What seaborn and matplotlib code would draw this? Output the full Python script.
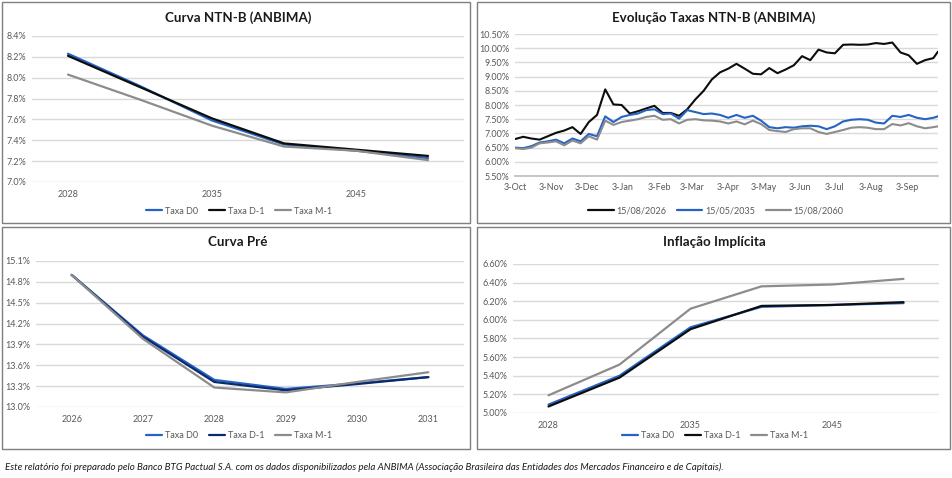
import matplotlib
matplotlib.use('Agg')
import matplotlib.pyplot as plt
import matplotlib.dates as mdates
from matplotlib.patches import Rectangle
from matplotlib.ticker import FuncFormatter, FixedLocator
import numpy as np
import pandas as pd
import seaborn as sns

sns.set_theme(style='white')
plt.rcParams['font.family'] = ['Lato', 'DejaVu Sans']

# Curva NTN-B (ANBIMA)
ntnb_venc = ['2028', '2030', '2035', '2040', '2045', '2050']
ntnb_d0 = [8.23, 7.92, 7.59, 7.36, 7.30, 7.23]
ntnb_d1 = [8.21, 7.91, 7.61, 7.37, 7.31, 7.25]
ntnb_m1 = [8.03, 7.79, 7.54, 7.34, 7.30, 7.21]

# Curva Pre
pre_anos = ['2026', '2027', '2028', '2029', '2030', '2031']
pre_d0 = [14.90, 14.03, 13.39, 13.26, 13.34, 13.43]
pre_d1 = [14.90, 14.01, 13.36, 13.24, 13.33, 13.43]
pre_m1 = [14.90, 13.98, 13.28, 13.21, 13.36, 13.50]

# Inflacao implicita
infl_venc = ['2028', '2030', '2035', '2040', '2045', '2050']
infl_d0 = [5.09, 5.40, 5.92, 6.14, 6.16, 6.18]
infl_d1 = [5.07, 5.38, 5.90, 6.15, 6.16, 6.19]
infl_m1 = [5.19, 5.52, 6.12, 6.36, 6.38, 6.44]

# Evolucao taxas NTN-B (semanal)
evol_datas = list(pd.date_range('2024-10-03', '2025-09-25', freq='7D')) + [pd.Timestamp('2025-09-29')]
evol_2026 = [6.80, 6.88, 6.82, 6.78, 6.90, 7.02, 7.10, 7.22, 6.98, 7.40, 7.65, 8.55, 8.02, 8.00,
             7.70, 7.78, 7.88, 7.97, 7.72, 7.72, 7.62, 7.85, 8.20, 8.50, 8.90, 9.15, 9.28,
             9.45, 9.28, 9.10, 9.08, 9.30, 9.12, 9.25, 9.40, 9.72, 9.58, 9.95, 9.85, 9.82,
             10.12, 10.13, 10.12, 10.13, 10.18, 10.15, 10.20, 9.85, 9.75, 9.45, 9.58, 9.65, 9.88]
evol_2035 = [6.50, 6.48, 6.55, 6.68, 6.72, 6.78, 6.65, 6.82, 6.72, 6.98, 6.90, 7.60, 7.40, 7.58,
             7.65, 7.70, 7.82, 7.85, 7.68, 7.70, 7.52, 7.82, 7.75, 7.68, 7.70, 7.65, 7.55,
             7.65, 7.55, 7.62, 7.45, 7.22, 7.18, 7.22, 7.20, 7.25, 7.27, 7.25, 7.15, 7.25,
             7.42, 7.48, 7.50, 7.48, 7.38, 7.35, 7.62, 7.58, 7.65, 7.55, 7.50, 7.55, 7.60]
evol_2060 = [6.48, 6.45, 6.50, 6.65, 6.68, 6.72, 6.58, 6.75, 6.65, 6.90, 6.78, 7.45, 7.30, 7.40,
             7.45, 7.50, 7.58, 7.62, 7.48, 7.50, 7.35, 7.48, 7.50, 7.46, 7.45, 7.42, 7.35,
             7.42, 7.32, 7.45, 7.33, 7.12, 7.08, 7.05, 7.15, 7.18, 7.18, 7.05, 6.98, 7.05,
             7.12, 7.20, 7.22, 7.20, 7.15, 7.15, 7.33, 7.28, 7.36, 7.25, 7.18, 7.22, 7.25]

BLUE = '#2563C4'
BLACK = '#0D0D0D'
NAVY = '#0B2A6B'
GRAY = '#8C8C8C'
GRID = '#D9D9D9'
TXT = '#595959'
W, H = 953, 478


def px_axes(fig, l, t, r, b):
    return fig.add_axes([l / W, 1 - b / H, (r - l) / W, (b - t) / H])


def style_ax(ax, fmt, step, lo, hi):
    ax.set_ylim(lo, hi)
    ax.yaxis.set_major_locator(FixedLocator(np.arange(lo, hi + step / 2, step)))
    ax.yaxis.set_major_formatter(FuncFormatter(lambda v, p: fmt % v))
    ax.grid(axis='y', color=GRID, lw=1.0)
    ax.grid(axis='x', visible=False)
    for s in ax.spines.values():
        s.set_visible(False)
    ax.tick_params(axis='both', length=0, labelsize=6.5, labelcolor=TXT, pad=4)
    ax.set_xlabel('')
    ax.set_ylabel('')


def curve(ax, cats, series, colors, labels, label_every):
    df = pd.DataFrame({'pos': list(range(len(cats))) * len(series),
                       'taxa': [v for s in series for v in s],
                       'serie': [lab for lab in labels for _ in cats]})
    sns.lineplot(data=df, x='pos', y='taxa', hue='serie', hue_order=labels,
                 palette=dict(zip(labels, colors)), lw=1.6, ax=ax, legend=False)
    ax.set_xlim(-0.5, len(cats) - 0.5)
    ticks = list(range(0, len(cats), label_every))
    ax.set_xticks(ticks)
    ax.set_xticklabels([cats[i] for i in ticks])


def legend(fig, ax, colors, labels, cx, cy, hl=1.8):
    handles = [plt.Line2D([], [], color=c, lw=1.6) for c in colors]
    ax.legend(handles, labels, loc='center', bbox_to_anchor=(cx / W, 1 - cy / H),
              bbox_transform=fig.transFigure, ncol=len(labels), frameon=False,
              fontsize=6.5, handlelength=hl, handletextpad=0.3, columnspacing=1.2,
              labelcolor=TXT)


def title(fig, x, y, s):
    fig.text(x / W, 1 - y / H, s, ha='center', va='center',
             fontsize=9.6, fontweight='bold', color='#1A1A1A')


fig = plt.figure(figsize=(W / 100, H / 100), dpi=100)

# panel borders
for l, t, r, b in [(2, 2, 470, 223), (477, 2, 950, 223), (2, 227, 470, 449), (477, 227, 950, 449)]:
    fig.add_artist(Rectangle((l / W, 1 - b / H), (r - l) / W, (b - t) / H,
                             transform=fig.transFigure, fill=False, ec='#7F7F7F', lw=1.0))

leg3 = ['Taxa D0', 'Taxa D-1', 'Taxa M-1']

# Curva NTN-B
ax1 = px_axes(fig, 32, 36, 464, 182)
curve(ax1, ntnb_venc, [ntnb_d0, ntnb_d1, ntnb_m1], [BLUE, BLACK, GRAY], leg3, 2)
style_ax(ax1, '%.1f%%', 0.2, 7.0, 8.4)
ax1.tick_params(axis='x', pad=6)
title(fig, 238, 18, 'Curva NTN-B (ANBIMA)')
legend(fig, ax1, [BLUE, BLACK, GRAY], leg3, 239, 211)

# Evolucao taxas
ax2 = px_axes(fig, 515, 34, 938, 176)
leg2 = ['15/08/2026', '15/05/2035', '15/08/2060']
df2 = pd.DataFrame({'data': evol_datas * 3,
                    'taxa': evol_2026 + evol_2035 + evol_2060,
                    'serie': [lab for lab in leg2 for _ in evol_datas]})
sns.lineplot(data=df2, x='data', y='taxa', hue='serie', hue_order=leg2,
             palette=dict(zip(leg2, [BLACK, BLUE, GRAY])), lw=1.5, ax=ax2, legend=False)
style_ax(ax2, '%.2f%%', 0.5, 5.5, 10.5)
ax2.set_xlim(evol_datas[0], evol_datas[-1])
ax2.xaxis.set_major_locator(mdates.MonthLocator(bymonthday=3))
ax2.xaxis.set_major_formatter(FuncFormatter(
    lambda v, p: '%d-%s' % (mdates.num2date(v).day, mdates.num2date(v).strftime('%b'))))
ax2.spines['bottom'].set_visible(True)
ax2.spines['bottom'].set_color('#BFBFBF')
ax2.tick_params(axis='x', length=3, color='#BFBFBF', pad=2)
title(fig, 714, 18, 'Evolução Taxas NTN-B (ANBIMA)')
legend(fig, ax2, [BLACK, BLUE, GRAY], leg2, 716, 211, hl=2.8)

# Curva Pre
ax3 = px_axes(fig, 36, 261, 464, 407)
curve(ax3, pre_anos, [pre_d0, pre_d1, pre_m1], [BLUE, NAVY, GRAY], leg3, 1)
style_ax(ax3, '%.1f%%', 0.3, 13.0, 15.1)
ax3.tick_params(axis='x', pad=6)
title(fig, 238, 242, 'Curva Pré')
legend(fig, ax3, [BLUE, NAVY, GRAY], leg3, 239, 436)

# Inflacao implicita
ax4 = px_axes(fig, 513, 264, 939, 413)
curve(ax4, infl_venc, [infl_d0, infl_d1, infl_m1], [BLUE, BLACK, GRAY], leg3, 2)
style_ax(ax4, '%.2f%%', 0.2, 5.0, 6.6)
ax4.tick_params(axis='x', pad=6)
title(fig, 714, 242, 'Inflação Implícita')
legend(fig, ax4, [BLUE, BLACK, GRAY], leg3, 715, 436)

fig.text(5 / W, 1 - 467 / H,
         'Este relatório foi preparado pelo Banco BTG Pactual S.A. com os dados disponibilizados pela '
         'ANBIMA (Associação Brasileira das Entidades dos Mercados Financeiro e de Capitais).',
         ha='left', va='center', fontsize=7.0, style='italic', color='#1A1A1A')

fig.savefig('out.png', dpi=100)
